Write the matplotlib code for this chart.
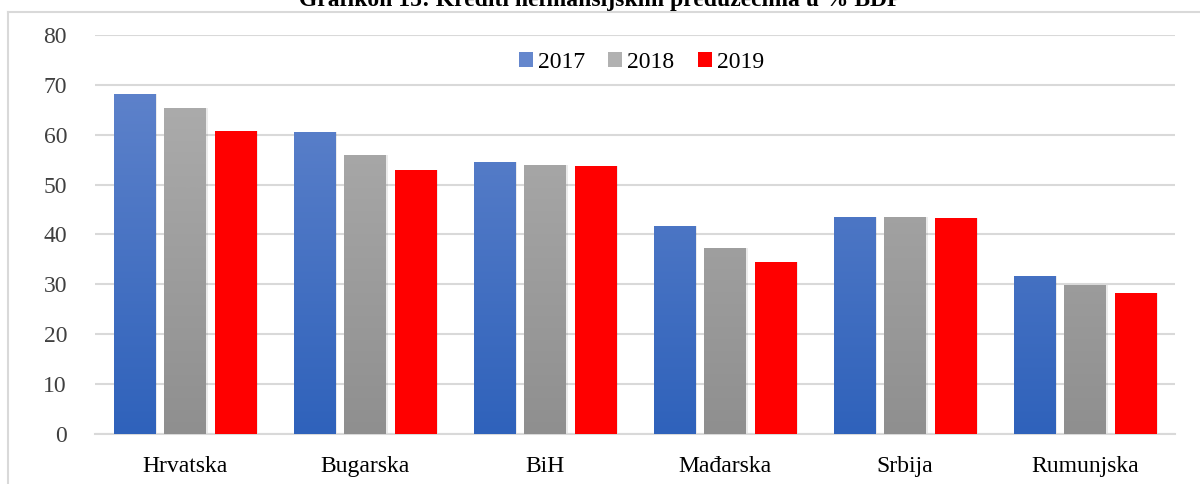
import numpy as np
import matplotlib
matplotlib.use('Agg')
import matplotlib.pyplot as plt
from matplotlib.colors import LinearSegmentedColormap
from matplotlib.patches import Patch
from matplotlib.lines import Line2D

countries = ['Hrvatska', 'Bugarska', 'BiH', 'Mađarska', 'Srbija', 'Rumunjska']
years = ['2017', '2018', '2019']
v2017 = [68.1, 60.5, 54.5, 41.7, 43.5, 31.7]
v2018 = [65.3, 55.9, 53.9, 37.3, 43.5, 29.9]
v2019 = [60.7, 52.9, 53.7, 34.5, 43.3, 28.3]

title = 'Grafikon 15: Krediti nefinansijskim preduzećima u % BDP'

plt.rcParams['font.family'] = ['Liberation Serif', 'DejaVu Serif']

# (top colour, bottom colour) for each series
grads = [('#6587cd', '#2f62bb'), ('#b1b1b1', '#8f8f8f'), ('#ff0000', '#ff0000')]

fig = plt.figure(figsize=(12, 4.84), dpi=100)
ax = fig.add_axes([0.079, 0.1033, 0.9, 0.8244])

x = np.arange(len(countries))
offsets = [-0.28, 0.0, 0.28]
width = 0.23
grad = np.linspace(1, 0, 256).reshape(-1, 1)

for vals, off, (top, bot), yr in zip([v2017, v2018, v2019], offsets, grads, years):
    cmap = LinearSegmentedColormap.from_list(yr, [bot, top])
    bars = ax.bar(x + off, vals, width, color='none', edgecolor='none', zorder=3)
    for b in bars:
        x0 = b.get_x()
        w, h = b.get_width(), b.get_height()
        # soft shadow
        ax.bar(x0 + w / 2 + 0.012, h, w, bottom=0, color='#000000', alpha=0.08,
               zorder=2.5, linewidth=0)
        im = ax.imshow(grad, cmap=cmap, aspect='auto', extent=[x0, x0 + w, 0, 80],
                       vmin=0, vmax=1, zorder=3, interpolation='bilinear')
        im.set_clip_path(b)

ax.set_xlim(-0.5, len(countries) - 0.5)
ax.set_ylim(0, 80)
ax.set_yticks(range(0, 81, 10))
ax.set_xticks(x)
ax.set_xticklabels(countries)
ax.tick_params(axis='both', length=0, labelsize=17, colors='#404040')
ax.tick_params(axis='x', colors='#000000', pad=16)
ax.tick_params(axis='y', pad=20)
ax.yaxis.grid(True, color='#d9d9d9', linewidth=1.5, zorder=0)
ax.set_axisbelow(True)
for s in ['top', 'right', 'left']:
    ax.spines[s].set_visible(False)
ax.spines['bottom'].set_color('#d9d9d9')
ax.spines['bottom'].set_linewidth(1.5)

handles = [Patch(facecolor=g[0], edgecolor='none') for g in grads]
ax.legend(handles, years, loc='upper center', bbox_to_anchor=(0.506, 1.01), ncol=3,
          frameon=False, fontsize=17, handlelength=0.6, handleheight=0.6,
          handletextpad=0.2, columnspacing=1.0)

fig.text(0.5, 0.999, title, ha='center', va='center', fontsize=17, fontweight='bold')

# outer chart border
fig.add_artist(Line2D([0.0067, 0.0067], [0, 0.975], color='#d9d9d9', linewidth=1.5))
fig.add_artist(Line2D([0.0067, 1], [0.975, 0.975], color='#d9d9d9', linewidth=1.5))

fig.savefig('out.png', dpi=100)
